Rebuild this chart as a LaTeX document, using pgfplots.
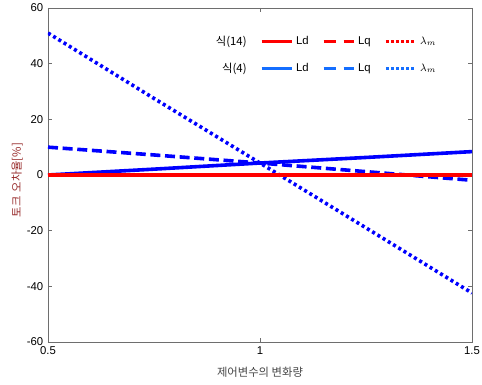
\documentclass[border=0pt]{standalone}
\usepackage{fontspec}
\setmainfont{Liberation Sans}
\newfontfamily\kr{Noto Sans CJK KR}
\usepackage{pgfplots}
\pgfplotsset{compat=1.18}
\definecolor{lblue}{RGB}{20,110,255}
\definecolor{ylab}{RGB}{150,40,40}
\definecolor{xlab}{RGB}{70,70,70}
\definecolor{frame}{RGB}{110,110,110}
\begin{document}
\begin{tikzpicture}
\useasboundingbox (-36pt,-32.25pt) rectangle (325.5pt,256.5pt);
\begin{axis}[
  at={(0pt,0pt)}, anchor=south west,
  scale only axis,
  width=318pt, height=250.5pt,
  xmin=0.5, xmax=1.5, ymin=-60, ymax=60,
  xtick={0.5,1,1.5}, ytick={-60,-40,...,60},
  xticklabels={0.5,1,1.5},
  /pgf/number format/assume math mode=true,
  tick label style={font=\fontsize{8.5}{10}\selectfont, black},
  tick align=inside, major tick length=3pt,
  axis line style={frame},
  every tick/.style={frame},
  xlabel={\kr 제어변수의 변화량},
  ylabel={\kr 토크\hspace{0.35em}오차율[\%]},
  xlabel style={font=\fontsize{8.5}{10}\selectfont, text=xlab, at={(axis description cs:0.5,-0.09)}, anchor=center},
  ylabel style={font=\fontsize{8.5}{10}\selectfont, text=ylab, at={(axis description cs:-0.073,0.485)}, anchor=center},
  legend columns=4,
  legend style={draw=none, fill=none, font=\fontsize{8.5}{10}\selectfont,
    at={(axis description cs:0.932,0.934)}, anchor=north east,
    row sep=8pt,
    /tikz/every even column/.append style={column sep=8pt}},
  legend cell align=left,
  legend image code/.code={\draw[#1] (0pt,0pt) -- (22.5pt,0pt);},
]
% data (blue first, red on top)
\addplot[forget plot, blue, line width=2.7pt, dash pattern=on 2.3pt off 2.3pt] coordinates {(0.5,51) (0.75,27.5) (1,4.3) (1.25,-19) (1.5,-42.4)};
\addplot[forget plot, blue, line width=2.7pt, dash pattern=on 7.5pt off 3.5pt] coordinates {(0.5,10) (0.75,7.2) (1,4.3) (1.25,1.2) (1.5,-1.9)};
\addplot[forget plot, blue, line width=2.7pt] coordinates {(0.5,0) (0.75,2.1) (1,4.3) (1.25,6.3) (1.5,8.4)};
\addplot[forget plot, red, line width=3.7pt, dash pattern=on 2.3pt off 2.3pt] coordinates {(0.5,0) (1,0) (1.5,0)};
\addplot[forget plot, red, line width=3.7pt, dash pattern=on 7.5pt off 3.5pt] coordinates {(0.5,0) (1,0) (1.5,0)};
\addplot[forget plot, red, line width=3.7pt] coordinates {(0.5,0) (1,0) (1.5,0)};
% legend
\addlegendimage{empty legend}
\addlegendentry{\kr 식(14)}
\addlegendimage{red, line width=2.6pt}
\addlegendentry{Ld}
\addlegendimage{red, line width=2.6pt, dash pattern=on 9pt off 6pt}
\addlegendentry{Lq}
\addlegendimage{red, line width=2.6pt, dash pattern=on 2.2pt off 1.6pt}
\addlegendentry{$\lambda_m$}
\addlegendimage{empty legend}
\addlegendentry{\kr\phantom{1}식(4)}
\addlegendimage{lblue, line width=2.6pt}
\addlegendentry{Ld}
\addlegendimage{lblue, line width=2.6pt, dash pattern=on 9pt off 6pt}
\addlegendentry{Lq}
\addlegendimage{lblue, line width=2.6pt, dash pattern=on 2.2pt off 1.6pt}
\addlegendentry{$\lambda_m$}
\end{axis}
\end{tikzpicture}
\end{document}
